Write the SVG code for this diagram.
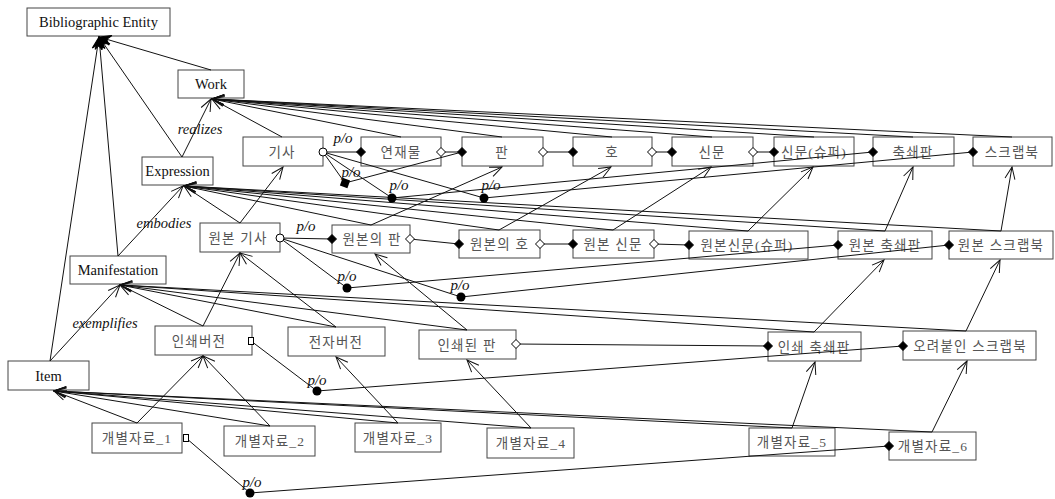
<svg xmlns="http://www.w3.org/2000/svg" width="1055" height="499" viewBox="0 0 1055 499">
<style>
.box{fill:#fff;stroke:#444;stroke-width:1}
.en{font-family:"Liberation Serif",serif;font-size:14.5px;fill:#111;text-anchor:middle}
.ko{font-family:"Liberation Serif","Noto Sans CJK KR",sans-serif;font-size:13.5px;letter-spacing:1.2px;fill:#555;text-anchor:middle}
.lbl{font-family:"Liberation Serif",serif;font-style:italic;font-size:14.5px;fill:#111;text-anchor:middle}
.po{font-family:"Liberation Serif",serif;font-style:italic;font-size:15px;fill:#111;text-anchor:middle}
.c{stroke:#111;stroke-width:1;fill:none}
.a{marker-end:url(#arr)}
.af{marker-end:url(#arrf)}
.fd{fill:#000;stroke:#000;stroke-width:1}
.od{fill:#fff;stroke:#000;stroke-width:1}
</style>
<defs>
<marker id="arr" markerUnits="userSpaceOnUse" markerWidth="14" markerHeight="12" viewBox="0 0 14 12" refX="13" refY="6" orient="auto"><path d="M1,1 L13,6 L1,11" fill="none" stroke="#111" stroke-width="1"/></marker>
<marker id="arrf" markerUnits="userSpaceOnUse" markerWidth="14" markerHeight="12" viewBox="0 0 14 12" refX="13" refY="6" orient="auto"><path d="M1,1 L13,6 L1,11 L5,6Z" fill="#000" stroke="#000" stroke-width="1"/></marker>
<path id="dia" d="M-4.5,0 L0,-4.5 L4.5,0 L0,4.5Z"/>
</defs>

<g id="n-be"><rect class="box" x="27" y="8" width="143" height="28"/><text class="en" x="98.5" y="27">Bibliographic Entity</text></g>
<g id="n-work"><rect class="box" x="178" y="70" width="66" height="28"/><text class="en" x="211" y="89">Work</text></g>
<g id="n-expr"><rect class="box" x="142" y="157" width="71" height="28"/><text class="en" x="177.5" y="176">Expression</text></g>
<g id="n-mani"><rect class="box" x="70" y="256" width="96" height="28"/><text class="en" x="118" y="275">Manifestation</text></g>
<g id="n-item"><rect class="box" x="8" y="361" width="81" height="29"/><text class="en" x="48.5" y="380.5">Item</text></g>

<g id="n-gisa"><rect class="box" x="243" y="137" width="80" height="29"/><text class="ko" x="282" y="156.5">기사</text></g>
<g id="n-yeonjae"><rect class="box" x="361" y="137" width="80" height="29"/><text class="ko" x="401" y="156.5">연재물</text></g>
<g id="n-pan"><rect class="box" x="462" y="137" width="81" height="29"/><text class="ko" x="502" y="156.5">판</text></g>
<g id="n-ho"><rect class="box" x="573" y="137" width="79" height="29"/><text class="ko" x="612" y="156.5">호</text></g>
<g id="n-sinmun"><rect class="box" x="672" y="137" width="81" height="29"/><text class="ko" x="712" y="156.5">신문</text></g>
<g id="n-sinmun-super"><rect class="box" x="774" y="137" width="80" height="29"/><text class="ko" x="814" y="156.5">신문(슈퍼)</text></g>
<g id="n-chuksae"><rect class="box" x="873" y="137" width="81" height="29"/><text class="ko" x="913" y="156.5">축쇄판</text></g>
<g id="n-scrap"><rect class="box" x="973" y="137" width="79" height="29"/><text class="ko" x="1012" y="156.5">스크랩북</text></g>

<g id="n-o-gisa"><rect class="box" x="200" y="223" width="80" height="29"/><text class="ko" x="238" y="242.5">원본 기사</text></g>
<g id="n-o-pan"><rect class="box" x="332" y="225" width="78" height="28"/><text class="ko" x="372" y="244">원본의 판</text></g>
<g id="n-o-ho"><rect class="box" x="459" y="230" width="81" height="28"/><text class="ko" x="499.5" y="249">원본의 호</text></g>
<g id="n-o-sinmun"><rect class="box" x="573" y="230" width="81" height="28"/><text class="ko" x="613" y="249">원본 신문</text></g>
<g id="n-o-sinmun-super"><rect class="box" x="689" y="231" width="119" height="28"/><text class="ko" x="747" y="250">원본신문(슈퍼)</text></g>
<g id="n-o-chuksae"><rect class="box" x="838" y="231" width="94" height="28"/><text class="ko" x="885" y="250">원본 축쇄판</text></g>
<g id="n-o-scrap"><rect class="box" x="949" y="231" width="104" height="28"/><text class="ko" x="1001" y="250">원본 스크랩북</text></g>

<g id="n-print"><rect class="box" x="155" y="326" width="97" height="29"/><text class="ko" x="199" y="345.5">인쇄버전</text></g>
<g id="n-elec"><rect class="box" x="288" y="327" width="97" height="29"/><text class="ko" x="336" y="346.5">전자버전</text></g>
<g id="n-printed-pan"><rect class="box" x="419" y="330" width="97" height="29"/><text class="ko" x="467" y="349.5">인쇄된 판</text></g>
<g id="n-print-chuksae"><rect class="box" x="768" y="332" width="93" height="29"/><text class="ko" x="814" y="351.5">인쇄 축쇄판</text></g>
<g id="n-pasted-scrap"><rect class="box" x="903" y="331" width="133" height="29"/><text class="ko" x="970" y="350.5">오려붙인 스크랩북</text></g>

<g id="n-i1"><rect class="box" x="92" y="423" width="90" height="30"/><text class="ko" x="137" y="443">개별자료_1</text></g>
<g id="n-i2"><rect class="box" x="224" y="426" width="91" height="30"/><text class="ko" x="270" y="446">개별자료_2</text></g>
<g id="n-i3"><rect class="box" x="355" y="423" width="86" height="29"/><text class="ko" x="398" y="442.5">개별자료_3</text></g>
<g id="n-i4"><rect class="box" x="487" y="428" width="87" height="30"/><text class="ko" x="531" y="448">개별자료_4</text></g>
<g id="n-i5"><rect class="box" x="749" y="428" width="86" height="28"/><text class="ko" x="792" y="447">개별자료_5</text></g>
<g id="n-i6"><rect class="box" x="889" y="432" width="87" height="28"/><text class="ko" x="933" y="451">개별자료_6</text></g>

<g id="connectors">
<g class="c af">
<line x1="211" y1="70" x2="99" y2="37"/>
<line x1="182" y1="157" x2="99" y2="37"/>
<line x1="118" y1="256" x2="99" y2="37"/>
<line x1="50" y1="361" x2="99" y2="37"/>
</g>
<g class="c a">
<line x1="182" y1="157" x2="211" y2="99"/>
<line x1="118" y1="256" x2="183" y2="186"/>
<line x1="50" y1="361" x2="120" y2="285"/>
<line x1="282" y1="137" x2="212" y2="99"/>
<line x1="401" y1="137" x2="212" y2="99"/>
<line x1="502" y1="137" x2="212" y2="99"/>
<line x1="612" y1="137" x2="212" y2="99"/>
<line x1="712" y1="137" x2="212" y2="99"/>
<line x1="814" y1="137" x2="212" y2="99"/>
<line x1="913" y1="137" x2="212" y2="99"/>
<line x1="1012" y1="137" x2="212" y2="99"/>
<line x1="240" y1="223" x2="184" y2="186"/>
<line x1="371" y1="225" x2="184" y2="186"/>
<line x1="499" y1="230" x2="184" y2="186"/>
<line x1="613" y1="230" x2="184" y2="186"/>
<line x1="748" y1="231" x2="184" y2="186"/>
<line x1="885" y1="231" x2="184" y2="186"/>
<line x1="1001" y1="231" x2="184" y2="186"/>
<line x1="203" y1="326" x2="120" y2="285"/>
<line x1="336" y1="327" x2="120" y2="285"/>
<line x1="467" y1="330" x2="120" y2="285"/>
<line x1="814" y1="332" x2="120" y2="285"/>
<line x1="966" y1="331" x2="120" y2="285"/>
<line x1="137" y1="423" x2="54" y2="391"/>
<line x1="270" y1="426" x2="54" y2="391"/>
<line x1="398" y1="423" x2="54" y2="391"/>
<line x1="531" y1="428" x2="54" y2="391"/>
<line x1="792" y1="428" x2="54" y2="391"/>
<line x1="932" y1="432" x2="54" y2="391"/>
<line x1="240" y1="223" x2="283" y2="167"/>
<line x1="371" y1="225" x2="502" y2="167"/>
<line x1="499" y1="230" x2="611" y2="167"/>
<line x1="613" y1="230" x2="711" y2="167"/>
<line x1="748" y1="231" x2="813" y2="167"/>
<line x1="885" y1="231" x2="913" y2="167"/>
<line x1="1001" y1="231" x2="1012" y2="167"/>
<line x1="203" y1="326" x2="240" y2="253"/>
<line x1="336" y1="327" x2="240" y2="253"/>
<line x1="467" y1="330" x2="375" y2="254"/>
<line x1="814" y1="332" x2="884" y2="260"/>
<line x1="966" y1="331" x2="1000" y2="260"/>
<line x1="137" y1="423" x2="203" y2="356"/>
<line x1="270" y1="426" x2="203" y2="356"/>
<line x1="398" y1="423" x2="336" y2="357"/>
<line x1="531" y1="428" x2="467" y2="360"/>
<line x1="792" y1="428" x2="815" y2="362"/>
<line x1="932" y1="432" x2="967" y2="361"/>
</g>
<g class="c">
<line x1="323" y1="152" x2="361" y2="152"/>
<line x1="441" y1="152" x2="462" y2="152"/>
<line x1="543" y1="152" x2="573" y2="152"/>
<line x1="652" y1="152" x2="672" y2="152"/>
<line x1="753" y1="152" x2="774" y2="152"/>
<polyline points="323,152 345,183 462,152"/>
<polyline points="323,152 392,198 873,152"/>
<polyline points="323,152 484,198 973,152"/>
<line x1="280" y1="238" x2="332" y2="239"/>
<line x1="410" y1="239" x2="459" y2="244"/>
<line x1="540" y1="244" x2="573" y2="244"/>
<line x1="654" y1="244" x2="689" y2="245"/>
<polyline points="280,238 347,288 838,245"/>
<polyline points="280,238 461,297 949,245"/>
<polyline points="251,341 317,391 903,346"/>
<line x1="516" y1="344" x2="768" y2="346"/>
<polyline points="186,438 250,493 889,446"/>
</g>
<circle class="od" cx="323" cy="152" r="4" stroke-width="1.6"/>
<circle class="od" cx="280" cy="238" r="4" stroke-width="1.6"/>
<use href="#dia" class="fd" x="361" y="152"/>
<use href="#dia" class="od" x="441" y="152"/>
<use href="#dia" class="fd" x="462" y="152"/>
<use href="#dia" class="od" x="543" y="152"/>
<use href="#dia" class="fd" x="573" y="152"/>
<use href="#dia" class="od" x="652" y="152"/>
<use href="#dia" class="fd" x="672" y="152"/>
<use href="#dia" class="od" x="753" y="152"/>
<use href="#dia" class="fd" x="774" y="152"/>
<use href="#dia" class="fd" x="873" y="152"/>
<use href="#dia" class="fd" x="973" y="152"/>
<use href="#dia" class="fd" x="332" y="239"/>
<use href="#dia" class="od" x="410" y="239"/>
<use href="#dia" class="fd" x="459" y="244"/>
<use href="#dia" class="od" x="540" y="244"/>
<use href="#dia" class="fd" x="573" y="244"/>
<use href="#dia" class="od" x="654" y="244"/>
<use href="#dia" class="fd" x="689" y="245"/>
<use href="#dia" class="fd" x="838" y="245"/>
<use href="#dia" class="fd" x="949" y="245"/>
<use href="#dia" class="od" x="516" y="344"/>
<use href="#dia" class="fd" x="768" y="346"/>
<use href="#dia" class="fd" x="903" y="346"/>
<use href="#dia" class="fd" x="889" y="446"/>
<rect x="248.5" y="337.5" width="5" height="7" class="od"/>
<rect x="183.5" y="434.5" width="5" height="7" class="od"/>
<rect x="341" y="179" width="8" height="8" fill="#000" transform="rotate(20 345 183)"/>
<circle cx="392" cy="198" r="4.5" fill="#000"/>
<circle cx="484" cy="198" r="4.5" fill="#000"/>
<circle cx="347" cy="288" r="4.5" fill="#000"/>
<circle cx="461" cy="297" r="4.5" fill="#000"/>
<circle cx="317" cy="391" r="4.5" fill="#000"/>
<circle cx="250" cy="493" r="4.5" fill="#000"/>
<text class="lbl" x="200" y="134">realizes</text>
<text class="lbl" x="164" y="228">embodies</text>
<text class="lbl" x="105" y="328">exemplifies</text>
<text class="po" x="343" y="143">p/o</text>
<text class="po" x="351" y="177">p/o</text>
<text class="po" x="399" y="190">p/o</text>
<text class="po" x="491" y="190">p/o</text>
<text class="po" x="306" y="231">p/o</text>
<text class="po" x="347" y="281">p/o</text>
<text class="po" x="460" y="290">p/o</text>
<text class="po" x="317" y="385">p/o</text>
<text class="po" x="252" y="487">p/o</text>
</g>
</svg>
